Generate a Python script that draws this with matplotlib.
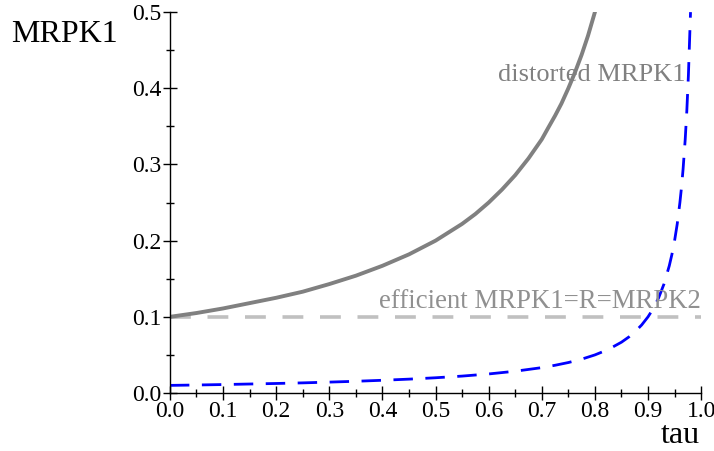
import matplotlib
matplotlib.use("Agg")
import matplotlib.pyplot as plt
from matplotlib.ticker import MultipleLocator

plt.rcParams["font.family"] = ["Liberation Serif", "DejaVu Serif"]
plt.rcParams["lines.scale_dashes"] = False

# distorted MRPK1 against tau
tau_dist = [0.0, 0.05, 0.1, 0.15, 0.2, 0.25, 0.3, 0.35, 0.4, 0.45, 0.5,
            0.525, 0.55, 0.575, 0.6, 0.625, 0.65, 0.675, 0.7, 0.712, 0.725,
            0.737, 0.75, 0.762, 0.775, 0.787, 0.8, 0.81]
mrpk_dist = [0.1, 0.105, 0.111, 0.118, 0.125, 0.133, 0.143, 0.154, 0.167,
             0.182, 0.2, 0.211, 0.222, 0.235, 0.25, 0.267, 0.286, 0.308,
             0.333, 0.348, 0.364, 0.380, 0.4, 0.420, 0.444, 0.469, 0.5, 0.526]

# MRPK2 (blue dashed)
tau_two = [0.0, 0.05, 0.1, 0.15, 0.2, 0.25, 0.3, 0.35, 0.4, 0.45, 0.5, 0.55,
           0.6, 0.65, 0.7, 0.725, 0.75, 0.775, 0.8, 0.825, 0.85, 0.865, 0.875,
           0.888, 0.9, 0.91, 0.92, 0.93, 0.94, 0.945, 0.95, 0.955, 0.96,
           0.963, 0.966, 0.97, 0.973, 0.976, 0.98]
mrpk_two = [0.01, 0.0105, 0.0111, 0.0118, 0.0125, 0.0133, 0.0143, 0.0154,
            0.0167, 0.0182, 0.02, 0.0222, 0.025, 0.0286, 0.0333, 0.0364,
            0.04, 0.0444, 0.05, 0.0571, 0.0667, 0.0741, 0.08, 0.0893, 0.1,
            0.111, 0.125, 0.143, 0.167, 0.182, 0.2, 0.222, 0.25, 0.270,
            0.294, 0.333, 0.370, 0.417, 0.5]

# efficient level
tau_eff = [0.0, 1.0]
mrpk_eff = [0.1, 0.1]

fig = plt.figure(figsize=(7.14, 4.51), dpi=100)
ax = fig.add_axes([0.238, 0.1286, 0.744, 0.8445])

ax.plot(tau_eff, mrpk_eff, color="#c0c0c0", lw=2.6, dashes=(15, 12))
ax.plot(tau_dist, mrpk_dist, color="#808080", lw=2.8)
ax.plot(tau_two, mrpk_two, color="#0000ff", lw=2.0, dashes=(14, 9))

ax.set_xlim(0, 1.0)
ax.set_ylim(0, 0.5)
for s in ("top", "right"):
    ax.spines[s].set_visible(False)
for s in ("left", "bottom"):
    ax.spines[s].set_linewidth(1.0)

ax.xaxis.set_major_locator(MultipleLocator(0.1))
ax.xaxis.set_minor_locator(MultipleLocator(0.05))
ax.yaxis.set_major_locator(MultipleLocator(0.1))
ax.yaxis.set_minor_locator(MultipleLocator(0.05))
ax.xaxis.set_major_formatter(lambda v, p: f"{v:.1f}")
ax.yaxis.set_major_formatter(lambda v, p: f"{v:.1f}")
ax.tick_params(which="major", direction="inout", length=10, width=1.0,
               labelsize=17, pad=1)
ax.tick_params(which="minor", direction="inout", length=6, width=1.0)

ax.text(0.97, 0.41, "distorted MRPK1", color="#808080", fontsize=19,
        ha="right", va="baseline")
ax.text(1.0, 0.111, "efficient MRPK1=R=MRPK2", color="#909090", fontsize=19.3,
        ha="right", va="baseline")

fig.text(11 / 714, 1 - 42 / 451, "MRPK1", fontsize=23, va="baseline")
fig.text(700 / 714, 1 - 443 / 451, "tau", fontsize=23, ha="right",
         va="baseline")

fig.savefig("out.png", dpi=100)
